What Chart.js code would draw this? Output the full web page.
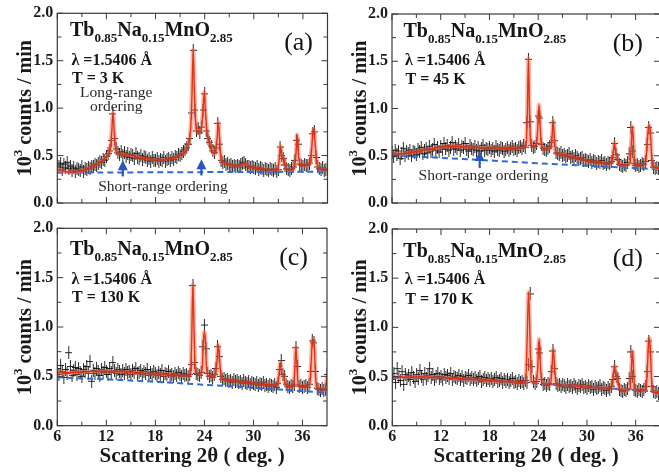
<!DOCTYPE html>
<html><head><meta charset="utf-8">
<script src="https://cdn.jsdelivr.net/npm/chart.js@4"></script>
<style>
html,body{margin:0;padding:0;background:#fff;}
#wrap{position:relative;width:659px;height:472px;overflow:hidden;background:#fff;}
canvas{position:absolute;}
</style></head>
<body><div id="wrap">
<canvas id="ca" width="335" height="215" style="left:0;top:0"></canvas>
<canvas id="cb" width="330" height="215" style="left:335px;top:0"></canvas>
<canvas id="cc" width="335" height="257" style="left:0;top:215px"></canvas>
<canvas id="cd" width="330" height="257" style="left:335px;top:215px"></canvas>
</div>
<script>
// ---------------- DATA ----------------
const thetaStart = 6, thetaStep = 0.2;   // scan grid of observed points (deg)
const xTicks = [6, 12, 18, 24, 30, 36];
const xMinorTicks = [9, 15, 21, 27, 33];
const yTicks = [0, 0.5, 1.0, 1.5, 2.0];
const yMinorTicks = [0.25, 0.75, 1.25, 1.75];
const panelLabels = ['(a)', '(b)', '(c)', '(d)'];
const temps = ['T = 3 K', 'T = 45 K', 'T = 130 K', 'T = 170 K'];
const formulaParts = [['Tb',0],['0.85',1],['Na',0],['0.15',1],['MnO',0],['2.85',1]];
const wavelength = 'λ =1.5406 Å';

// observed counts (10^3 counts/min), 6.0 .. 39.0 step 0.2
const obsA = [
0.40,0.38,0.42,0.35,0.41,0.37,0.43,0.36,0.39,0.34,
0.37,0.33,0.36,0.35,0.34,0.38,0.33,0.36,0.35,0.37,
0.36,0.39,0.38,0.41,0.40,0.42,0.44,0.43,0.46,0.45,
0.49,0.52,0.55,0.66,0.94,0.68,0.57,0.53,0.51,0.54,
0.50,0.53,0.49,0.52,0.48,0.51,0.50,0.47,0.52,0.48,
0.47,0.50,0.46,0.49,0.48,0.45,0.47,0.44,0.48,0.45,
0.45,0.47,0.44,0.46,0.45,0.48,0.44,0.46,0.47,0.45,
0.48,0.46,0.49,0.48,0.51,0.50,0.52,0.54,0.56,0.58,
0.62,0.68,0.95,1.61,0.98,0.76,0.79,0.74,0.80,0.98,
1.15,0.76,0.68,0.64,0.60,0.55,0.53,0.58,0.84,0.62,
0.45,0.43,0.44,0.41,0.42,0.40,0.41,0.38,0.40,0.39,
0.40,0.38,0.41,0.42,0.43,0.41,0.39,0.38,0.37,0.39,
0.37,0.36,0.38,0.35,0.37,0.36,0.34,0.36,0.35,0.34,
0.36,0.35,0.34,0.36,0.33,0.35,0.59,0.50,0.47,0.40,
0.36,0.35,0.34,0.36,0.38,0.45,0.66,0.62,0.41,0.40,
0.39,0.41,0.40,0.40,0.42,0.50,0.73,0.75,0.48,0.38,
0.36,0.35,0.37,0.34,0.35,0.36];
const obsB = [
0.53,0.49,0.56,0.51,0.55,0.47,0.52,0.58,0.50,0.54,
0.52,0.56,0.50,0.55,0.53,0.51,0.57,0.54,0.59,0.52,
0.56,0.58,0.53,0.60,0.55,0.57,0.62,0.56,0.59,0.54,
0.60,0.57,0.63,0.58,0.61,0.56,0.59,0.64,0.57,0.60,
0.58,0.62,0.56,0.60,0.59,0.63,0.57,0.55,0.61,0.58,
0.57,0.60,0.56,0.59,0.55,0.58,0.61,0.56,0.58,0.57,
0.59,0.56,0.58,0.55,0.60,0.57,0.56,0.59,0.58,0.55,
0.57,0.59,0.56,0.58,0.60,0.57,0.58,0.56,0.59,0.60,
0.58,0.61,0.59,0.85,1.52,0.86,0.61,0.59,0.60,0.63,
0.92,0.90,0.62,0.58,0.57,0.56,0.58,0.60,0.64,0.85,
0.66,0.53,0.52,0.51,0.53,0.50,0.51,0.49,0.50,0.52,
0.48,0.49,0.47,0.50,0.48,0.46,0.47,0.48,0.45,0.46,
0.45,0.44,0.46,0.43,0.45,0.44,0.42,0.44,0.43,0.45,
0.42,0.43,0.41,0.43,0.42,0.44,0.48,0.63,0.51,0.46,
0.41,0.40,0.39,0.41,0.40,0.43,0.52,0.80,0.55,0.42,
0.40,0.41,0.39,0.40,0.42,0.41,0.44,0.62,0.80,0.74,
0.45,0.38,0.37,0.38,0.36,0.37];
const obsC = [
0.58,0.52,0.61,0.55,0.49,0.57,0.53,0.74,0.60,0.51,
0.56,0.59,0.52,0.58,0.54,0.50,0.57,0.55,0.60,0.53,
0.65,0.45,0.56,0.53,0.58,0.55,0.51,0.57,0.54,0.59,
0.55,0.52,0.58,0.54,0.64,0.56,0.53,0.57,0.55,0.52,
0.56,0.53,0.57,0.54,0.55,0.52,0.56,0.54,0.58,0.53,
0.54,0.56,0.52,0.55,0.53,0.57,0.51,0.54,0.52,0.55,
0.53,0.51,0.54,0.52,0.56,0.50,0.53,0.52,0.55,0.51,
0.52,0.50,0.53,0.51,0.54,0.52,0.50,0.53,0.51,0.52,
0.50,0.52,0.62,1.42,0.64,0.53,0.52,0.51,0.54,0.80,
1.02,0.78,0.53,0.50,0.51,0.49,0.52,0.58,0.80,0.70,
0.50,0.47,0.48,0.46,0.47,0.45,0.46,0.44,0.47,0.45,
0.46,0.44,0.45,0.43,0.46,0.44,0.43,0.45,0.42,0.44,
0.43,0.42,0.44,0.41,0.43,0.42,0.44,0.41,0.42,0.40,
0.42,0.41,0.40,0.42,0.39,0.43,0.57,0.66,0.52,0.50,
0.42,0.40,0.39,0.41,0.40,0.42,0.79,0.60,0.40,0.41,
0.39,0.40,0.41,0.39,0.42,0.55,0.86,0.84,0.55,0.38,
0.37,0.36,0.38,0.36,0.37,0.52];
const obsD = [
0.47,0.53,0.44,0.58,0.50,0.46,0.55,0.42,0.52,0.48,
0.51,0.47,0.54,0.49,0.45,0.52,0.48,0.56,0.50,0.47,
0.53,0.48,0.51,0.58,0.49,0.52,0.47,0.50,0.53,0.48,
0.50,0.47,0.52,0.49,0.51,0.48,0.53,0.47,0.50,0.49,
0.48,0.51,0.47,0.50,0.46,0.49,0.48,0.51,0.47,0.49,
0.47,0.49,0.46,0.48,0.50,0.45,0.47,0.49,0.46,0.48,
0.46,0.48,0.45,0.47,0.49,0.45,0.46,0.48,0.44,0.47,
0.45,0.47,0.44,0.46,0.48,0.44,0.45,0.43,0.46,0.44,
0.45,0.43,0.46,0.44,0.62,1.34,0.60,0.45,0.43,0.45,
0.78,0.74,0.47,0.42,0.43,0.41,0.43,0.42,0.55,0.76,
0.58,0.43,0.41,0.42,0.40,0.42,0.41,0.39,0.42,0.40,
0.41,0.39,0.42,0.40,0.38,0.41,0.40,0.42,0.39,0.40,
0.38,0.41,0.39,0.40,0.37,0.40,0.38,0.39,0.41,0.37,
0.39,0.38,0.36,0.39,0.37,0.40,0.47,0.60,0.50,0.48,
0.37,0.36,0.35,0.37,0.36,0.38,0.48,0.75,0.50,0.37,
0.36,0.35,0.37,0.36,0.35,0.37,0.40,0.55,0.86,0.75,
0.40,0.35,0.34,0.35,0.33,0.34];

// refined fit curves [2theta, counts]
const fitA = [[6,0.35],[7,0.33],[8,0.325],[9,0.34],[10,0.37],[11,0.42],[11.8,0.47],[12.3,0.52],[12.5,0.58],[12.65,0.75],[12.8,0.95],[12.95,0.75],[13.1,0.58],[13.3,0.53],[14,0.515],[15,0.5],[16,0.48],[17,0.465],[18,0.455],[19,0.455],[20,0.47],[21,0.5],[21.6,0.54],[22.0,0.62],[22.3,0.8],[22.45,1.15],[22.6,1.61],[22.75,1.15],[22.9,0.85],[23.1,0.75],[23.4,0.74],[23.65,0.82],[23.8,0.98],[23.95,1.17],[24.1,0.95],[24.3,0.74],[24.6,0.63],[25.0,0.53],[25.25,0.52],[25.45,0.62],[25.55,0.72],[25.67,0.85],[25.8,0.7],[25.95,0.5],[26.1,0.43],[26.6,0.42],[27.5,0.395],[28.3,0.395],[28.9,0.415],[29.5,0.385],[30.5,0.365],[32,0.35],[32.9,0.35],[33.05,0.42],[33.15,0.5],[33.27,0.6],[33.4,0.5],[33.55,0.46],[33.65,0.48],[33.8,0.4],[34,0.36],[34.6,0.35],[35.0,0.39],[35.15,0.52],[35.3,0.72],[35.45,0.52],[35.6,0.42],[35.9,0.4],[36.5,0.4],[36.9,0.42],[37.05,0.55],[37.2,0.73],[37.3,0.78],[37.4,0.73],[37.55,0.55],[37.7,0.42],[38.1,0.36],[39,0.35]];
const fitB = [[6,0.52],[7,0.52],[8,0.53],[9,0.545],[10,0.56],[11,0.575],[12,0.59],[13,0.6],[14,0.6],[15,0.595],[16,0.59],[17,0.585],[18,0.585],[19,0.585],[20,0.58],[21,0.58],[22,0.585],[22.5,0.6],[22.65,0.9],[22.8,1.53],[22.95,0.9],[23.1,0.62],[23.5,0.6],[23.8,0.62],[23.95,0.8],[24.1,1.04],[24.25,0.8],[24.4,0.6],[25.0,0.57],[25.55,0.58],[25.7,0.68],[25.85,0.87],[26.0,0.68],[26.15,0.54],[26.6,0.52],[27.5,0.5],[28.5,0.48],[29.5,0.46],[30.5,0.44],[31.5,0.43],[32.5,0.42],[33.0,0.42],[33.2,0.5],[33.4,0.64],[33.55,0.52],[33.7,0.5],[33.85,0.44],[34.1,0.4],[34.8,0.4],[35.3,0.42],[35.45,0.6],[35.6,0.81],[35.75,0.6],[35.9,0.41],[36.5,0.4],[37.2,0.41],[37.4,0.6],[37.55,0.78],[37.7,0.82],[37.85,0.7],[38.0,0.45],[38.2,0.38],[39,0.37]];
const fitC = [[6,0.535],[8,0.54],[10,0.548],[12,0.552],[14,0.545],[16,0.535],[18,0.525],[20,0.515],[22,0.505],[22.3,0.51],[22.45,0.9],[22.6,1.43],[22.75,0.9],[22.9,0.55],[23.5,0.52],[23.75,0.6],[23.9,0.88],[24.0,0.95],[24.1,0.88],[24.25,0.6],[24.5,0.5],[25.3,0.5],[25.5,0.62],[25.7,0.82],[25.9,0.62],[26.1,0.48],[27,0.46],[28,0.45],[29,0.44],[30,0.43],[31,0.42],[32,0.415],[33,0.41],[33.1,0.5],[33.3,0.64],[33.45,0.52],[33.65,0.53],[33.85,0.43],[34.2,0.4],[34.9,0.4],[35.05,0.55],[35.2,0.8],[35.35,0.55],[35.5,0.4],[36.5,0.4],[36.9,0.42],[37.05,0.62],[37.2,0.86],[37.3,0.88],[37.45,0.8],[37.6,0.5],[37.75,0.39],[38.4,0.37],[38.8,0.37],[39,0.5]];
const fitD = [[6,0.49],[8,0.495],[10,0.495],[12,0.49],[14,0.48],[16,0.47],[18,0.46],[20,0.45],[22,0.44],[22.45,0.44],[22.6,0.8],[22.8,1.36],[23.0,0.8],[23.15,0.45],[23.7,0.43],[23.9,0.55],[24.1,0.88],[24.3,0.55],[24.5,0.43],[25.5,0.42],[25.7,0.6],[25.85,0.78],[26.0,0.6],[26.2,0.42],[27,0.41],[28,0.405],[29,0.4],[30,0.395],[31,0.39],[32,0.385],[33.0,0.38],[33.2,0.48],[33.4,0.61],[33.55,0.5],[33.75,0.52],[33.95,0.38],[34.5,0.36],[35.3,0.37],[35.45,0.55],[35.6,0.76],[35.75,0.55],[35.9,0.37],[36.8,0.36],[37.3,0.38],[37.45,0.6],[37.6,0.86],[37.7,0.89],[37.85,0.7],[38.0,0.4],[38.3,0.34],[39,0.34]];

// background (dashed)
const bgA = [[6,0.32],[39,0.33]];
const bgB = [[6,0.505],[12,0.478],[17,0.455],[23,0.425],[30,0.395],[36,0.37],[39,0.356]];
const bgC = [[6,0.49],[12,0.47],[18,0.445],[24,0.415],[30,0.385],[36,0.35],[39,0.335]];
const bgD = [[6,0.485],[12,0.475],[18,0.455],[24,0.43],[30,0.395],[36,0.36],[39,0.345]];

// arrows [2theta, yStart, yTip] and notes [text, 2theta, y]
const arrowsA = [[14.0,0.28,0.45],[23.6,0.29,0.46]];
const arrowsB = [[16.8,0.37,0.55]];
const notesA = [['Long-range',13.2,1.12],['ordering',13.2,0.975],['Short-range ordering',18.9,0.125]];
const notesB = [['Short-range ordering',17.25,0.244]];

// ---------------- LAYOUT ----------------
const serif = '"Liberation Serif","Times New Roman",serif';
const panels = [
 {id:'ca', w:335, h:215, L:57.3, R:327.5, T:13.3, B:210.7, obs:obsA, fit:fitA, bg:bgA, arrows:arrowsA, notes:notesA, lab:panelLabels[0], temp:temps[0], xlab:false, tx:12.7, t1:22.5, t2:52, t3:70, lr:14.5},
 {id:'cb', w:330, h:215, L:57,   R:325,   T:14,   B:210.7, obs:obsB, fit:fitB, bg:bgB, arrows:arrowsB, notes:notesB, lab:panelLabels[1], temp:temps[1], xlab:false, tx:11.5, t1:23.3, t2:50.5, t3:70, lr:17},
 {id:'cc', w:335, h:257, L:57.3, R:327,   T:13.3, B:210.7, obs:obsC, fit:fitC, bg:bgC, arrows:[], notes:[], lab:panelLabels[2], temp:temps[2], xlab:true, tx:12.7, t1:26.7, t2:55.5, t3:74, lr:19},
 {id:'cd', w:330, h:257, L:57.3, R:325,   T:14,   B:210.7, obs:obsD, fit:fitD, bg:bgD, arrows:[], notes:[], lab:panelLabels[3], temp:temps[3], xlab:true, tx:11,   t1:27.7, t2:55, t3:75, lr:17}
];

// "+" marker with vertical error bar
const crossImg = document.createElement('canvas');
crossImg.width = 7; crossImg.height = 13;
(() => {
  const c = crossImg.getContext('2d');
  c.strokeStyle = 'rgba(15,15,15,0.88)'; c.lineWidth = 1;
  c.beginPath();
  c.moveTo(0, 6.5); c.lineTo(7, 6.5);
  c.moveTo(3.5, 0); c.lineTo(3.5, 13);
  c.stroke();
})();

function makeDecor(p){
  return {
    id:'decor',
    afterDatasetsDraw(chart){
      const {ctx, chartArea:a, scales:{x,y}} = chart;
      ctx.save();
      // arrows
      ctx.strokeStyle = '#2a55c4'; ctx.fillStyle = '#2a55c4'; ctx.lineWidth = 2.2;
      for (const [t, y0, y1] of p.arrows){
        const px = x.getPixelForValue(t), pb = y.getPixelForValue(y0), pt = y.getPixelForValue(y1);
        ctx.beginPath(); ctx.moveTo(px, pb); ctx.lineTo(px, pt + 6); ctx.stroke();
        ctx.beginPath(); ctx.moveTo(px, pt); ctx.lineTo(px - 5, pt + 10); ctx.lineTo(px + 5, pt + 10); ctx.closePath(); ctx.fill();
      }
      // notes
      ctx.fillStyle = '#2a2a2a'; ctx.font = '15.5px ' + serif; ctx.textAlign = 'center'; ctx.textBaseline = 'alphabetic';
      for (const [txt, t, v] of p.notes){
        ctx.fillText(txt, x.getPixelForValue(t), y.getPixelForValue(v));
      }
      // formula
      ctx.fillStyle = '#151515'; ctx.textAlign = 'left';
      let cx = a.left + p.tx;
      for (const [txt, sub] of formulaParts){
        ctx.font = sub ? 'bold 13px ' + serif : 'bold 20px ' + serif;
        ctx.fillText(txt, cx, a.top + p.t1 + (sub ? 6 : 0));
        cx += ctx.measureText(txt).width;
      }
      ctx.font = 'bold 16px ' + serif;
      ctx.fillText(wavelength, a.left + p.tx + 1.5, a.top + p.t2);
      ctx.fillText(p.temp, a.left + p.tx + 2, a.top + p.t3);
      ctx.font = '26px ' + serif; ctx.textAlign = 'right';
      ctx.fillText(p.lab, a.right - p.lr, a.top + 37);
      ctx.restore();
    },
    afterDraw(chart){
      const {ctx, chartArea:a, scales:{x,y}} = chart;
      ctx.save();
      ctx.strokeStyle = '#3a3a3a'; ctx.lineWidth = 1.2;
      ctx.strokeRect(a.left, a.top, a.right - a.left, a.bottom - a.top);
      ctx.lineWidth = 1;
      ctx.beginPath();
      const xt = (v, len) => { const px = x.getPixelForValue(v); ctx.moveTo(px, a.bottom); ctx.lineTo(px, a.bottom - len); ctx.moveTo(px, a.top); ctx.lineTo(px, a.top + len); };
      const yt = (v, len) => { const py = y.getPixelForValue(v); ctx.moveTo(a.left, py); ctx.lineTo(a.left + len, py); ctx.moveTo(a.right, py); ctx.lineTo(a.right - len, py); };
      xTicks.forEach(v => xt(v, 6)); xMinorTicks.forEach(v => xt(v, 4));
      yTicks.forEach(v => yt(v, 6)); yMinorTicks.forEach(v => yt(v, 4));
      ctx.stroke();
      // y title
      ctx.fillStyle = '#1a1a1a';
      ctx.translate(a.left - 26, (a.top + a.bottom) / 2);
      ctx.rotate(-Math.PI / 2);
      const big = 'bold 20px ' + serif, small = 'bold 13px ' + serif;
      ctx.font = big; const w1 = ctx.measureText('10').width, w3 = ctx.measureText(' counts / min').width;
      ctx.font = small; const w2 = ctx.measureText('3').width;
      let sx = -(w1 + w2 + w3) / 2;
      ctx.textAlign = 'left'; ctx.textBaseline = 'alphabetic';
      ctx.font = big; ctx.fillText('10', sx, 0); sx += w1;
      ctx.font = small; ctx.fillText('3', sx, -9); sx += w2;
      ctx.font = big; ctx.fillText(' counts / min', sx, 0);
      ctx.restore();
      if (p.xlab){
        ctx.save();
        ctx.fillStyle = '#1a1a1a'; ctx.font = 'bold 21px ' + serif; ctx.textAlign = 'center'; ctx.textBaseline = 'alphabetic';
        ctx.fillText('Scattering 2θ ( deg. )', (a.left + a.right) / 2, a.bottom + 36.5);
        ctx.restore();
      }
    }
  };
}

const tickFont = {family: serif, size: 16, weight: 'bold', lineHeight: 1};
for (const p of panels){
  const obsPts = p.obs.map((v, i) => ({x: thetaStart + i * thetaStep, y: v}));
  const fitPts = p.fit.map(([t, v]) => ({x: t, y: v}));
  const bgPts = p.bg.map(([t, v]) => ({x: t, y: v}));
  new Chart(document.getElementById(p.id), {
    type: 'line',
    data: {datasets: [
      {data: fitPts, borderColor: 'rgba(225,45,20,0.95)', borderWidth: 1.4, pointRadius: 0, cubicInterpolationMode: 'monotone', order: 0},
      {data: fitPts, borderColor: 'rgba(245,115,85,0.5)', borderWidth: 4.5, pointRadius: 0, cubicInterpolationMode: 'monotone', order: 1},
      {data: bgPts, borderColor: '#2f6ad8', borderWidth: 2, borderDash: [6, 4], pointRadius: 0, order: 2},
      {data: obsPts, showLine: false, pointStyle: crossImg, pointRadius: 4, borderColor: 'rgba(25,25,25,0.8)', order: 3}
    ]},
    options: {
      responsive: false, animation: false, events: [],
      layout: {padding: {left: 0, top: p.T, right: p.w - p.R, bottom: 0}},
      plugins: {legend: {display: false}, tooltip: {enabled: false}},
      scales: {
        x: {type: 'linear', min: 6, max: 39,
            grid: {display: false, drawTicks: false}, border: {display: false},
            ticks: {display: p.xlab, font: tickFont, color: '#1a1a1a', padding: 3, maxRotation: 0, autoSkip: false},
            afterBuildTicks: s => { s.ticks = xTicks.map(v => ({value: v})); },
            afterFit: s => { s.height = p.h - p.B; }},
        y: {type: 'linear', min: 0, max: 2,
            grid: {display: false, drawTicks: false}, border: {display: false},
            ticks: {font: tickFont, color: '#1a1a1a', padding: 4, callback: v => Number(v).toFixed(1)},
            afterBuildTicks: s => { s.ticks = yTicks.map(v => ({value: v})); },
            afterFit: s => { s.width = p.L; }}
      }
    },
    plugins: [makeDecor(p)]
  });
}
</script>
</body></html>
